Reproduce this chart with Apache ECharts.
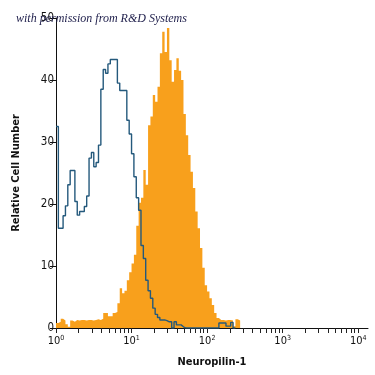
<!DOCTYPE html>
<html lang="en">
<head>
    <meta charset="UTF-8">
    <title>Neuropilin-1</title>
    <script src="https://cdn.jsdelivr.net/npm/echarts@6/dist/echarts.min.js"></script>
</head>
<body style="margin:0">
<div style="width: 375px; height: 375px" id="histogram"></div>

<script type="text/javascript">
    // bins are 1/32 decade wide, starting at 10^0
    var binWidth = 1 / 32;
    var decades = [0, 1, 2, 3, 4];

    // isotype control (blue outline)
    var controlCounts = [
        32.5, 16.1, 16.1, 18.1, 19.7, 23.1, 25.4, 25.4, 20.4, 18.2,
        18.8, 18.8, 19.6, 21.3, 27.4, 28.3, 26.0, 26.7, 29.5, 38.5,
        41.7, 41.1, 42.6, 43.3, 43.3, 43.3, 39.5, 38.3, 38.3, 38.3,
        33.5, 31.3, 28.1, 24.4, 21.0, 19.0, 13.3, 11.2, 7.7, 6.0,
        4.8, 3.2, 2.2, 1.7, 1.3, 1.3, 1.2, 1.0, 1.0, 0,
        1.0, 0.5, 0.5, 0.2, 0, 0, 0, 0, 0, 0,
        0, 0, 0, 0, 0, 0, 0, 0, 0, 0.8,
        0.8, 0.8, 0.3, 0.3, 0.9, 0
    ];

    // Neuropilin-1 stained (orange fill)
    var stainedCounts = [
        0.8, 1.0, 1.5, 1.2, 0.6, 0.2, 1.2, 1.0, 1.3, 1.2,
        1.3, 1.3, 1.2, 1.3, 1.3, 1.2, 1.3, 1.4, 1.3, 1.5,
        2.4, 2.4, 1.9, 1.9, 2.4, 2.6, 4.0, 6.4, 5.6, 6.0,
        7.7, 9.0, 10.4, 11.8, 16.5, 20.2, 21.0, 25.5, 23.1, 32.7,
        34.1, 37.6, 36.5, 38.9, 44.3, 47.8, 44.5, 48.4, 43.2, 39.7,
        41.6, 43.5, 41.5, 40.0, 34.5, 31.1, 27.9, 25.2, 22.6, 18.8,
        16.1, 12.9, 9.7, 6.9, 5.9, 4.8, 3.7, 2.4, 1.6, 1.3,
        1.3, 1.2, 1.3, 1.3, 1.2, 0.3, 1.4, 1.2, 0
    ];

    function toSteps(counts) {
        var pts = counts.map(function (c, i) {
            return [i * binWidth, c];
        });
        pts.push([counts.length * binWidth, 0]);
        return pts;
    }

    // ticks at 1..9 of every decade
    var tickValues = [];
    for (var d = 0; d < 4; d++) {
        for (var k = 1; k < 10; k++) {
            tickValues.push(d + Math.log10(k));
        }
    }
    tickValues.push(4);

    var narrow = '"Liberation Sans Narrow", "DejaVu Sans Condensed", sans-serif';

    var myChart = echarts.init(document.getElementById('histogram'));
    var option = {
        animation: false,
        title: {
            text: 'with permission from R&D Systems',
            left: 11,
            top: 8,
            textStyle: {
                fontFamily: '"Liberation Serif", serif',
                fontStyle: 'italic',
                fontWeight: 'normal',
                fontSize: 12,
                color: '#1d1d4a'
            }
        },
        // axis line runs a little past 10^4
        grid: {left: 56, right: 7, top: 18, bottom: 47},
        xAxis: {
            type: 'value',
            min: 0,
            max: 4.13,
            name: 'Neuropilin-1',
            nameLocation: 'middle',
            nameGap: 29,
            nameTextStyle: {
                fontFamily: narrow,
                fontWeight: 'bold',
                fontSize: 11,
                color: '#111'
            },
            axisLine: {lineStyle: {color: '#111', width: 1}},
            axisTick: {
                show: true,
                customValues: tickValues,
                length: 5,
                lineStyle: {color: '#222', width: 1}
            },
            splitLine: {show: false},
            axisLabel: {
                customValues: decades,
                margin: 7,
                color: '#111',
                fontFamily: narrow,
                fontSize: 11,
                formatter: function (v) {
                    return '10{s|' + Math.round(v) + '}';
                },
                rich: {
                    s: {fontSize: 7, verticalAlign: 'top', fontFamily: narrow, color: '#111', padding: [0, 0, 6, 0]}
                }
            }
        },
        yAxis: {
            type: 'value',
            min: 0,
            max: 50,
            interval: 10,
            name: 'Relative Cell Number',
            nameLocation: 'middle',
            nameGap: 34,
            nameTextStyle: {
                fontFamily: narrow,
                fontWeight: 'bold',
                fontSize: 11,
                color: '#111'
            },
            axisLine: {show: true, lineStyle: {color: '#111', width: 1}},
            axisTick: {show: true, length: 6, lineStyle: {color: '#111'}},
            splitLine: {show: false},
            axisLabel: {
                margin: 2,
                color: '#111',
                fontFamily: narrow,
                fontSize: 11.5
            }
        },
        series: [
            {
                name: 'Neuropilin-1',
                type: 'line',
                step: 'end',
                symbol: 'none',
                data: toSteps(stainedCounts),
                lineStyle: {width: 0},
                areaStyle: {color: '#f8a01c', opacity: 1}
            },
            {
                name: 'Control',
                type: 'line',
                step: 'end',
                symbol: 'none',
                data: toSteps(controlCounts),
                lineStyle: {color: '#24597c', width: 1.4}
            }
        ]
    };

    myChart.setOption(option);
</script>
</body>
</html>
